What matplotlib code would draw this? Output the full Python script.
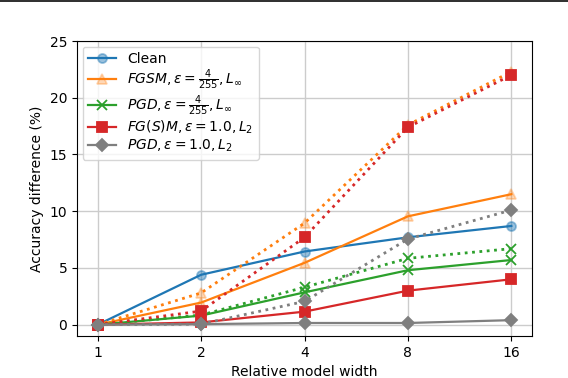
import matplotlib
matplotlib.use("Agg")
import matplotlib.pyplot as plt
from matplotlib.colors import to_rgba

widths = [1, 2, 4, 8, 16]
clean = [0.0, 4.4, 6.45, 7.7, 8.7]
fgsm_linf = [0.0, 1.95, 5.45, 9.55, 11.5]
fgsm_linf_dot = [0.0, 2.8, 8.95, 17.6, 22.3]
pgd_linf = [0.0, 0.8, 2.85, 4.8, 5.7]
pgd_linf_dot = [0.0, 0.85, 3.3, 5.85, 6.7]
fgm_l2 = [0.0, 0.2, 1.15, 3.0, 4.0]
fgm_l2_dot = [0.0, 1.2, 7.7, 17.4, 22.0]
pgd_l2 = [0.0, 0.05, 0.15, 0.15, 0.4]
pgd_l2_dot = [0.0, 0.05, 2.05, 7.55, 10.1]

labels = ['Clean',
          r'$FGSM, \varepsilon=\frac{4}{255}, L_\infty$',
          r'$PGD, \varepsilon=\frac{4}{255}, L_\infty$',
          r'$FG(S)M, \varepsilon=1.0, L_2$',
          r'$PGD, \varepsilon=1.0, L_2$']

fig = plt.figure(figsize=(5.68, 3.78), dpi=100)
ax = fig.add_axes([0.1356, 0.111, 0.801, 0.7805])

specs = [
    (clean, None, 'C0', 'o', 0.45),
    (fgsm_linf, fgsm_linf_dot, 'C1', '^', 0.3),
    (pgd_linf, pgd_linf_dot, 'C2', 'x', 1.0),
    (fgm_l2, fgm_l2_dot, 'C3', 's', 1.0),
    (pgd_l2, pgd_l2_dot, 'C7', 'D', 1.0),
]
for (solid, dotted, c, m, fa), lab in zip(specs, labels):
    mfc = to_rgba(c, fa)
    ax.plot(widths, solid, color=c, marker=m, ms=6.5, mfc=mfc, mew=1.3,
            lw=1.6, label=lab)
    if dotted is not None:
        ax.plot(widths, dotted, color=c, marker=m, ms=6.5, mfc=mfc, mew=1.3,
                lw=2.0, ls=':')

ax.set_xscale('log', base=2)
ax.set_xticks(widths)
ax.set_xticklabels([str(w) for w in widths])
ax.minorticks_off()
ax.set_ylim(-1.0, 25)
ax.set_yticks([0, 5, 10, 15, 20, 25])
ax.grid(True, color='#cccccc', lw=1.0)
ax.set_axisbelow(True)
ax.set_xlabel('Relative model width')
ax.set_ylabel('Accuracy difference (%)')
ax.legend(loc='upper left', fontsize=10, framealpha=0.8, labelspacing=0.1,
          borderaxespad=0.4)

fig.add_artist(plt.Rectangle((0, 0.995), 1, 0.005, transform=fig.transFigure,
                             color='#333333', lw=0))
fig.savefig('out.png', dpi=100)
